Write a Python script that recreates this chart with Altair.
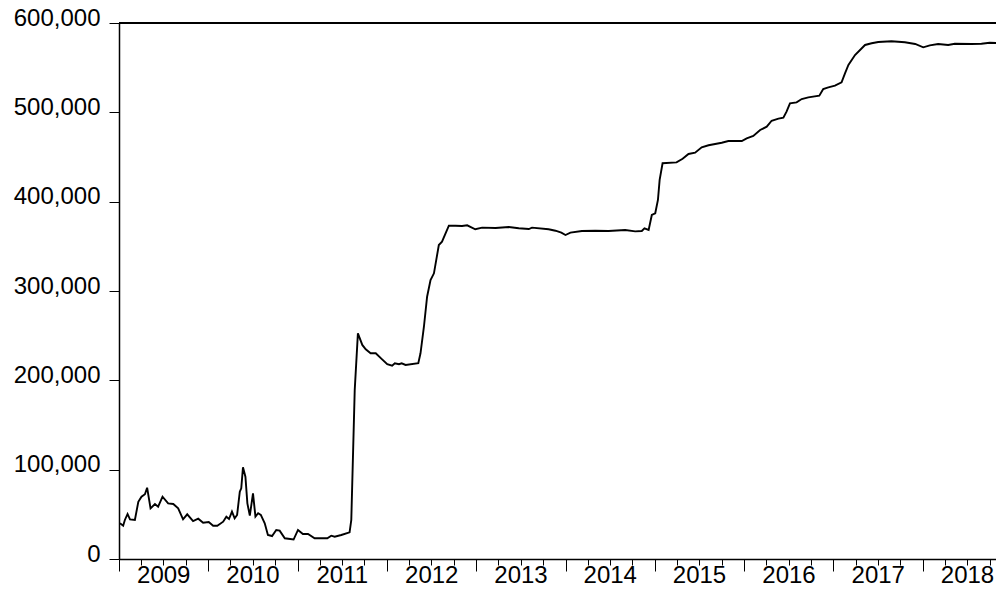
import altair as alt
import pandas as pd

dates = [
    "2009-01-05", "2009-01-18", "2009-01-25", "2009-02-05", "2009-02-15", "2009-03-07",
    "2009-03-21", "2009-04-03", "2009-04-17", "2009-04-26", "2009-05-10", "2009-05-28",
    "2009-06-10", "2009-06-28", "2009-07-21", "2009-08-11", "2009-08-31", "2009-09-20",
    "2009-10-07", "2009-10-31", "2009-11-21", "2009-12-11",
    "2010-01-03", "2010-01-21", "2010-02-07", "2010-03-03", "2010-03-16", "2010-03-27",
    "2010-04-08", "2010-04-19", "2010-04-29", "2010-05-10", "2010-05-16", "2010-05-23",
    "2010-06-02", "2010-06-10", "2010-06-20", "2010-07-03", "2010-07-13", "2010-07-24",
    "2010-08-04", "2010-08-20", "2010-09-02", "2010-09-19", "2010-10-06", "2010-10-20",
    "2010-11-10", "2010-12-16",
    "2011-01-03", "2011-01-23", "2011-02-13", "2011-03-12", "2011-05-03", "2011-05-19",
    "2011-06-02", "2011-06-29", "2011-08-02", "2011-08-09", "2011-08-23", "2011-09-05",
    "2011-09-23", "2011-10-07", "2011-10-27", "2011-11-17", "2011-12-13",
    "2012-01-03", "2012-01-23", "2012-02-03", "2012-02-20", "2012-03-02", "2012-03-18",
    "2012-05-09", "2012-05-18", "2012-06-01", "2012-06-14", "2012-06-28", "2012-07-12",
    "2012-08-01", "2012-08-14", "2012-09-11", "2012-10-08", "2012-11-04", "2012-11-25",
    "2012-12-28",
    "2013-01-25", "2013-03-21", "2013-05-14", "2013-06-24", "2013-08-04", "2013-08-17",
    "2013-10-24", "2013-11-21", "2013-12-15",
    "2014-01-01", "2014-01-21", "2014-03-09", "2014-05-03", "2014-06-26", "2014-09-02",
    "2014-10-13", "2014-11-09", "2014-11-20", "2014-12-07", "2014-12-20",
    "2015-01-03", "2015-01-14", "2015-01-21", "2015-02-02", "2015-03-31", "2015-04-25",
    "2015-05-19", "2015-06-15", "2015-07-12", "2015-08-09", "2015-10-02", "2015-10-29",
    "2015-12-23",
    "2016-01-12", "2016-02-08", "2016-03-07", "2016-04-03", "2016-04-23", "2016-05-21",
    "2016-06-10", "2016-06-23", "2016-07-07", "2016-08-03", "2016-08-24", "2016-09-20",
    "2016-11-04", "2016-11-20", "2016-12-11",
    "2017-01-07", "2017-02-03", "2017-02-17", "2017-03-03", "2017-03-30", "2017-05-10",
    "2017-06-06", "2017-07-03", "2017-08-26", "2017-10-20", "2017-12-01",
    "2018-01-03", "2018-01-30", "2018-03-05", "2018-04-15", "2018-05-12", "2018-07-19",
    "2018-08-29", "2018-10-02", "2018-11-19", "2018-12-28",
]

values = [
    40000, 37300, 43700, 50400, 44400, 43700,
    64100, 69700, 72500, 79800, 56700, 61600,
    58600, 69700, 62300, 61600, 56700, 44400,
    50000, 42500, 45100, 40600,
    41400, 37300, 37300, 41800, 47400, 44800,
    53000, 45600, 49300, 75300, 79100, 102600,
    92100, 62300, 48500, 73500, 47400, 51200,
    49300, 40000, 26900, 25700, 32500, 31700,
    23200, 21800,
    32500, 28000, 28000, 23200, 23200, 26100,
    25000, 26900, 29900, 43700, 189000, 252600,
    239600, 234700, 230300, 230300, 223500,
    218000, 216400, 219100, 218000, 219100, 217200,
    219100, 230300, 260000, 293600, 312300, 319800,
    351500, 355200, 373100, 373100, 372700, 373500,
    369100,
    370900, 370500, 371600, 370200, 369400, 370900,
    369100, 367500, 365300,
    362700, 365300, 367200, 367500, 367200, 368300,
    366800, 367200, 370200, 368300, 385100,
    387000, 401900, 424300, 443000, 444000, 448000,
    453400, 454800, 460800, 463100, 466000, 467900,
    467900,
    470900, 473500, 480200, 483900, 490600, 492900,
    494000, 500700, 510100, 511200, 514900, 516800,
    518600, 526100, 528000,
    529800, 533600, 543700, 553000, 564200, 575400,
    577300, 578700, 579500, 578400, 576500,
    572800, 575000, 576500, 575400, 576800, 576500,
    576800, 577900, 577300, 577500,
]

y_ticks = [0, 100000, 200000, 300000, 400000, 500000, 600000]
first_year = 2009
last_year = 2018

df = pd.DataFrame({"date": dates, "value": values})

quarter_ticks = [
    alt.DateTime(year=y, month=m, date=1, utc=True)
    for y in range(first_year, last_year + 1)
    for m in (1, 4, 7, 10)
]

FONT = "Liberation Sans"

x_enc = alt.X(
    "date:T",
    scale=alt.Scale(
        type="utc",
        domain=[alt.DateTime(year=first_year, month=1, date=1, utc=True),
                alt.DateTime(year=last_year + 1, month=1, date=1, utc=True)],
        range=[0, 893],
    ),
    axis=alt.Axis(
        title=None,
        values=quarter_ticks,
        tickSize={"condition": {"test": "utcmonth(datum.value) == 0", "value": 12}, "value": 6},
        tickColor="black",
        tickWidth=1,
        domainColor="black",
        domainWidth=1.5,
        labelExpr="utcmonth(datum.value) == 6 ? utcFormat(datum.value, '%Y') : ''",
        labelFont=FONT,
        labelFontSize=24,
        labelColor="black",
        labelPadding=-2,
        labelFlush=False,
        labelOverlap=False,
        grid=False,
    ),
)

y_enc = alt.Y(
    "value:Q",
    scale=alt.Scale(domain=[0, 600000], nice=False),
    axis=alt.Axis(
        title=None,
        values=y_ticks,
        format=",d",
        tickSize=10,
        tickColor="black",
        tickWidth=1,
        domainColor="black",
        domainWidth=1.5,
        labelFont=FONT,
        labelFontSize=24,
        labelColor="black",
        labelPadding=9,
        labelOffset=-5,
        grid=False,
    ),
)

line = alt.Chart(df).mark_line(color="black", strokeWidth=1.9).encode(x=x_enc, y=y_enc)

top_border = alt.Chart(df).mark_rule(color="black", strokeWidth=2).encode(
    x=alt.value(0), x2=alt.value(900), y=alt.value(0)
)

chart = (
    alt.layer(line, top_border)
    .properties(
        width=877,
        height=536,
        autosize="none",
        padding={"left": 111, "top": 15, "right": 0, "bottom": 33},
        background="white",
    )
    .configure_view(stroke=None)
)

chart.save("out.html", embed_options={"renderer": "svg", "actions": False})
